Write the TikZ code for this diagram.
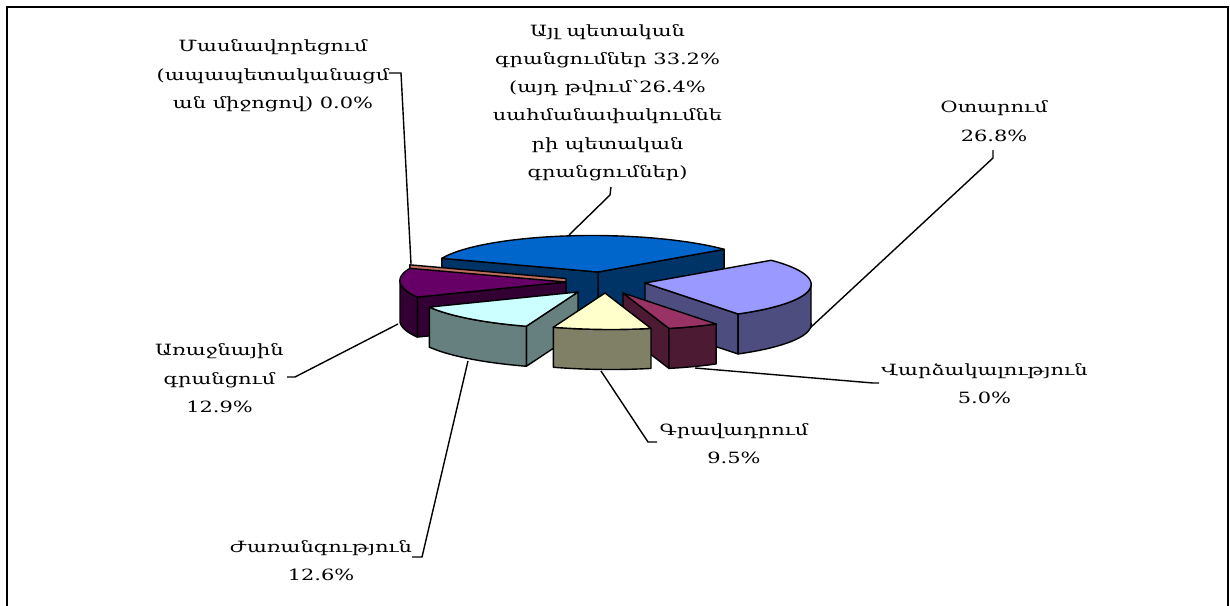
\documentclass[tikz,border=0pt]{standalone}
\usepackage{fontspec}
\setmainfont[FakeStretch=1.35]{DejaVu Serif}
\definecolor{blueTop}{HTML}{0066CC}
\definecolor{blueSide}{HTML}{003366}
\definecolor{lavTop}{HTML}{9999FF}
\definecolor{lavSide}{HTML}{4D4D80}
\definecolor{marTop}{HTML}{993366}
\definecolor{marSide}{HTML}{4D1A33}
\definecolor{tanTop}{HTML}{FFFFCC}
\definecolor{tanSide}{HTML}{808066}
\definecolor{cyaTop}{HTML}{CCFFFF}
\definecolor{cyaSide}{HTML}{668080}
\definecolor{purTop}{HTML}{660066}
\definecolor{purSide}{HTML}{330033}
\definecolor{salSide}{HTML}{C07060}
\def\pieRX{166}
\def\pieRY{36.5}
\def\pieSH{6}
\def\pieH{40}
\newcommand\pieTop[5]{%
  \draw[edge,fill=#5] (#1,#2) -- plot[domain=#3:#4,samples=60,variable=\t]
    ({#1+\pieRX*cos(\t)-\pieSH*sin(\t)},{#2-\pieRY*sin(\t)}) -- cycle;}
\newcommand\pieWall[5]{%
  \draw[edge,fill=#5] plot[domain=#3:#4,samples=60,variable=\t]
    ({#1+\pieRX*cos(\t)-\pieSH*sin(\t)},{#2-\pieRY*sin(\t)})
    -- plot[domain=#4:#3,samples=60,variable=\t]
    ({#1+\pieRX*cos(\t)-\pieSH*sin(\t)},{#2-\pieRY*sin(\t)+\pieH}) -- cycle;}
\newcommand\pieSide[4]{%
  \draw[edge,fill=#4] (#1,#2) -- ({#1+\pieRX*cos(#3)-\pieSH*sin(#3)},{#2-\pieRY*sin(#3)})
    -- ++(0,\pieH) -- (#1,#2+\pieH) -- cycle;}
\tikzset{
  edge/.style={draw=black,line width=1.4pt,line join=round},
  lead/.style={draw=black,line width=1.4pt},
  lbl/.style={align=center,inner sep=0pt,font=\fontsize{15.5}{28.3}\selectfont}
}
\begin{document}
\begin{tikzpicture}[x=1pt,y=-1pt]
\useasboundingbox (0,0) rectangle (1230,605);
\fill[white] (0,0) rectangle (1230,605);
\begin{scope}
  \clip (0,0) rectangle (1230,605);
  \draw[line width=2pt] (6.5,6.5) rectangle (1227.5,630);
\end{scope}

% labels
\node[lbl] (lPriv) at (273,76) {Մասնավորեցում\\(ապապետականացմ\\ան միջոցով) 0.0\%};
\node[lbl] (lOther) at (607.5,102.5) {Այլ պետական\\գրանցումներ 33.2\%\\(այդ թվում՝26.4\%\\սահմանափակումնե\\րի պետական\\գրանցումներ)};
\node[lbl] (lOut) at (994,121) {Օտարում\\26.8\%};
\node[lbl] (lLease) at (984.5,383.3) {Վարձակալություն\\5.0\%};
\node[lbl] (lPledge) at (734,443.3) {Գրավադրում\\9.5\%};
\node[lbl] (lInh) at (321,560.3) {Ժառանգություն\\12.6\%};
\node[lbl] (lPrim) at (219.5,378.2) {Առաջնային\\գրանցում\\12.9\%};

% leader coordinates
\coordinate (sPriv) at (389,73);   \coordinate (kPriv) at (401,73);   \coordinate (pPriv) at (411,264);
\coordinate (sOther) at (611,187); \coordinate (kOther) at (610,195); \coordinate (pOther) at (569,235);
\coordinate (sOut) at (993,150);   \coordinate (kOut) at (993,158);   \coordinate (pOut) at (810,328);
\coordinate (sLease) at (879,383); \coordinate (kLease) at (873,383); \coordinate (pLease) at (695,368);
\coordinate (sPledge) at (657,442);\coordinate (kPledge) at (648,442);\coordinate (pPledge) at (601,371);
\coordinate (sInh) at (412,557);   \coordinate (kInh) at (422,557);   \coordinate (pInh) at (468,361);
\coordinate (sPrim) at (287,377);  \coordinate (kPrim) at (295,377);  \coordinate (pPrim) at (398,324);

\draw[lead] (sPriv) -- (kPriv) -- (pPriv);
\draw[lead] (sOther) -- (kOther) -- (pOther);
\draw[lead] (sOut) -- (kOut) -- (pOut);
\draw[lead] (sLease) -- (kLease) -- (pLease);
\draw[lead] (sPledge) -- (kPledge) -- (pPledge);
\draw[lead] (sInh) -- (kInh) -- (pInh);
\draw[lead] (sPrim) -- (kPrim) -- (pPrim);

% blue: other state registrations 33.2%
\pieSide{598}{272}{38.5}{blueSide}
\pieSide{598}{272}{158}{blueSide}
\pieTop{598}{272}{38.5}{158}{blueTop}
% salmon sliver: privatization 0.0%
\pieSide{566}{278.5}{158}{salSide}
% purple: primary registration 12.9%
\pieSide{566}{282}{-155.6}{purSide}
\pieWall{566}{282}{-180}{-155.6}{purSide}
\pieTop{566}{282}{-202}{-155.6}{purTop}
% lavender: alienation 26.8%
\pieSide{645}{283}{-58}{lavSide}
\pieWall{645}{283}{-58}{0}{lavSide}
\pieTop{645}{283}{-58}{38.5}{lavTop}
% maroon: lease 5.0%
\pieSide{623}{293}{-76}{marSide}
\pieWall{623}{293}{-76}{-58}{marSide}
\pieTop{623}{293}{-76}{-58}{marTop}
% cyan: inheritance 12.6%
\pieSide{578}{292}{-110.2}{cyaSide}
\pieWall{578}{292}{-155.6}{-110.2}{cyaSide}
\pieTop{578}{292}{-155.6}{-110.2}{cyaTop}
% tan: pledge 9.5%
\pieWall{605}{293}{-110.2}{-76}{tanSide}
\pieTop{605}{293}{-110.2}{-76}{tanTop}
\end{tikzpicture}
\end{document}
